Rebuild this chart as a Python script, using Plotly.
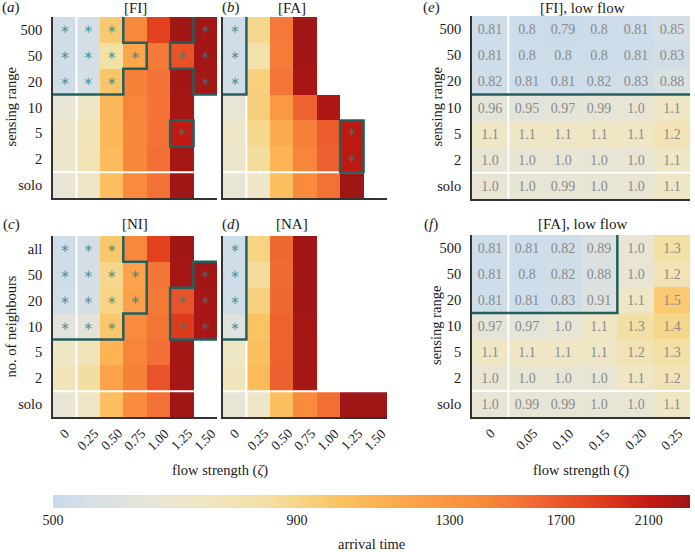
import math
from collections import defaultdict
import plotly.graph_objects as go

W, H = 695, 552
FONT = "Liberation Serif"
TXT = "#1a1a1a"
AXC = "#333333"
TEAL = "#245f60"
STAR = "rgba(40,128,133,0.78)"

# ---------------- data ----------------
SENSING_ROWS = ["500", "50", "20", "10", "5", "2", "solo"]
NEIGHBOUR_ROWS = ["all", "50", "20", "10", "5", "2", "solo"]
FLOW_HIGH = ["0", "0.25", "0.50", "0.75", "1.00", "1.25", "1.50"]
FLOW_LOW = ["0", "0.05", "0.10", "0.15", "0.20", "0.25"]

# arrival times (rows top->bottom, columns = flow strength)
FI_TIME = [
    [520, 540, 960, 1410, 1850, 2290, 2280],
    [520, 540, 830, 1170, 1500, 1730, 2280],
    [520, 545, 980, 1450, 1530, 2280, 2270],
    [640, 700, 1060, 1430, 1530, 2260, None],
    [690, 760, 1060, 1420, 1530, 2120, None],
    [680, 770, 1050, 1420, 1550, 2270, None],
    [640, 700, 1020, 1400, 1540, 2300, None],
]
FA_TIME = [
    [520, 880, 1510, 2280, None, None, None],
    [520, 810, 1490, 2280, None, None, None],
    [520, 930, 1520, 2250, None, None, None],
    [640, 940, 1280, 1630, 2220, None, None],
    [690, 890, 1130, 1460, 1660, 2140, None],
    [680, 850, 1090, 1430, 1640, 2140, None],
    [640, 700, 1020, 1400, 1540, 2300, None],
]
NI_TIME = [
    [520, 540, 975, 1410, 1850, 2280, None],
    [520, 540, 895, 1190, 1520, 2270, 2280],
    [530, 550, 910, 1200, 1500, 1720, 2250],
    [600, 610, 980, 1390, 1520, 1880, 2250],
    [710, 760, 1090, 1430, 1550, 2260, None],
    [750, 840, 1190, 1450, 1720, 2270, None],
    [640, 700, 1020, 1400, 1540, 2300, None],
]
NA_TIME = [
    [520, 910, 1600, 2280, None, None, None],
    [520, 850, 1580, 2280, None, None, None],
    [520, 920, 1600, 2280, None, None, None],
    [590, 1000, 1630, 2270, None, None, None],
    [710, 1020, 1630, 2260, None, None, None],
    [750, 1040, 1640, 2260, None, None, None],
    [640, 700, 1020, 1400, 1560, 2300, 2300],
]

# significance (stars + outline)
FI_SIG = [
    [1, 1, 1, 0, 0, 0, 1],
    [1, 1, 1, 1, 0, 1, 1],
    [1, 1, 1, 0, 0, 0, 1],
    [0, 0, 0, 0, 0, 0, 0],
    [0, 0, 0, 0, 0, 1, 0],
    [0, 0, 0, 0, 0, 0, 0],
    [0, 0, 0, 0, 0, 0, 0],
]
FA_SIG = [
    [1, 0, 0, 0, 0, 0, 0],
    [1, 0, 0, 0, 0, 0, 0],
    [1, 0, 0, 0, 0, 0, 0],
    [0, 0, 0, 0, 0, 0, 0],
    [0, 0, 0, 0, 0, 1, 0],
    [0, 0, 0, 0, 0, 1, 0],
    [0, 0, 0, 0, 0, 0, 0],
]
NI_SIG = [
    [1, 1, 1, 0, 0, 0, 0],
    [1, 1, 1, 1, 0, 0, 1],
    [1, 1, 1, 1, 0, 1, 1],
    [1, 1, 1, 0, 0, 1, 1],
    [0, 0, 0, 0, 0, 0, 0],
    [0, 0, 0, 0, 0, 0, 0],
    [0, 0, 0, 0, 0, 0, 0],
]
NA_SIG = [
    [1, 0, 0, 0, 0, 0, 0],
    [1, 0, 0, 0, 0, 0, 0],
    [1, 0, 0, 0, 0, 0, 0],
    [1, 0, 0, 0, 0, 0, 0],
    [0, 0, 0, 0, 0, 0, 0],
    [0, 0, 0, 0, 0, 0, 0],
    [0, 0, 0, 0, 0, 0, 0],
]

# low-flow ratios (relative to solo at zero flow)
FI_LOW_RATIO = [
    [0.81, 0.8, 0.79, 0.8, 0.81, 0.85],
    [0.81, 0.8, 0.8, 0.8, 0.81, 0.83],
    [0.82, 0.81, 0.81, 0.82, 0.83, 0.88],
    [0.96, 0.95, 0.97, 0.99, 1.0, 1.1],
    [1.1, 1.1, 1.1, 1.1, 1.1, 1.2],
    [1.0, 1.0, 1.0, 1.0, 1.0, 1.1],
    [1.0, 1.0, 0.99, 1.0, 1.0, 1.1],
]
FA_LOW_RATIO = [
    [0.81, 0.81, 0.82, 0.89, 1.0, 1.3],
    [0.81, 0.8, 0.82, 0.88, 1.0, 1.2],
    [0.81, 0.81, 0.83, 0.91, 1.1, 1.5],
    [0.97, 0.97, 1.0, 1.1, 1.3, 1.4],
    [1.1, 1.1, 1.1, 1.1, 1.2, 1.3],
    [1.0, 1.0, 1.0, 1.0, 1.1, 1.2],
    [1.0, 0.99, 0.99, 1.0, 1.0, 1.1],
]
FI_LOW_SIG = [
    [1, 1, 1, 1, 1, 1],
    [1, 1, 1, 1, 1, 1],
    [1, 1, 1, 1, 1, 1],
    [0, 0, 0, 0, 0, 0],
    [0, 0, 0, 0, 0, 0],
    [0, 0, 0, 0, 0, 0],
    [0, 0, 0, 0, 0, 0],
]
FA_LOW_SIG = [
    [1, 1, 1, 1, 0, 0],
    [1, 1, 1, 1, 0, 0],
    [1, 1, 1, 1, 0, 0],
    [0, 0, 0, 0, 0, 0],
    [0, 0, 0, 0, 0, 0],
    [0, 0, 0, 0, 0, 0],
    [0, 0, 0, 0, 0, 0],
]
SOLO_BASELINE = 640  # solo arrival time at zero flow

CBAR_TICKS = [500, 900, 1300, 1700, 2100]
T_MIN, T_MAX = 500, 2320

CSCALE = [
    [0.00, "#c8dbeb"], [0.03, "#cfdde8"], [0.06, "#d6e0e4"], [0.12, "#e1e3dc"],
    [0.16, "#e8e5d5"], [0.22, "#eee6c6"], [0.27, "#f1e4b9"], [0.33, "#f3e0a5"],
    [0.38, "#f6d68a"], [0.45, "#fbc363"], [0.51, "#fcb252"], [0.57, "#fba149"],
    [0.67, "#f88b3c"], [0.72, "#f47838"], [0.80, "#ea552a"], [0.85, "#e3411f"],
    [0.935, "#c51a12"], [1.00, "#9b1616"],
]
ZMIN, ZMAX = math.log10(T_MIN), math.log10(T_MAX)

panels = [
    dict(times=FI_TIME, sig=FI_SIG, rows=SENSING_ROWS, cols=FLOW_HIGH, xpx=(53, 217), ypx=(17, 198),
         title="[FI]", tx=135, ty=8, label="a", lx=11, yticks=True, xticks=False, stars=True,
         ylab="sensing range", ylx=10),
    dict(times=FA_TIME, sig=FA_SIG, rows=SENSING_ROWS, cols=FLOW_HIGH, xpx=(223, 387), ypx=(17, 198),
         title="[FA]", tx=292, ty=8, label="b", lx=231, yticks=False, xticks=False, stars=True),
    dict(ratio=FI_LOW_RATIO, sig=FI_LOW_SIG, rows=SENSING_ROWS, cols=FLOW_LOW, xpx=(472, 690), ypx=(16, 199),
         title="[FI], low flow", tx=582, ty=8, label="e", lx=431, yticks=True, xticks=False, stars=False,
         ylab="sensing range", ylx=436),
    dict(times=NI_TIME, sig=NI_SIG, rows=NEIGHBOUR_ROWS, cols=FLOW_HIGH, xpx=(53, 217), ypx=(236, 417),
         title="[NI]", tx=135, ty=224, label="c", lx=11, yticks=True, xticks=True, stars=True,
         ylab="no. of neighbours", ylx=10),
    dict(times=NA_TIME, sig=NA_SIG, rows=NEIGHBOUR_ROWS, cols=FLOW_HIGH, xpx=(223, 387), ypx=(236, 417),
         title="[NA]", tx=292, ty=224, label="d", lx=231, yticks=False, xticks=True, stars=True),
    dict(ratio=FA_LOW_RATIO, sig=FA_LOW_SIG, rows=SENSING_ROWS, cols=FLOW_LOW, xpx=(472, 690), ypx=(235, 417),
         title="[FA], low flow", tx=582, ty=224, label="f", lx=431, yticks=True, xticks=True, stars=False,
         ylab="sensing range", ylx=436),
]


def boundary_segments(mask):
    nr, nc = len(mask), len(mask[0])
    segs = []
    for i in range(nr):
        for j in range(nc):
            if not mask[i][j]:
                continue
            yc, xc = nr - 1 - i, j
            if i - 1 >= 0 and not mask[i - 1][j]:
                segs.append(((xc - 0.5, yc + 0.5), (xc + 0.5, yc + 0.5)))
            if i + 1 < nr and not mask[i + 1][j]:
                segs.append(((xc - 0.5, yc - 0.5), (xc + 0.5, yc - 0.5)))
            if j - 1 >= 0 and not mask[i][j - 1]:
                segs.append(((xc - 0.5, yc - 0.5), (xc - 0.5, yc + 0.5)))
            if j + 1 < nc and not mask[i][j + 1]:
                segs.append(((xc + 0.5, yc - 0.5), (xc + 0.5, yc + 0.5)))
    return segs


def chain(segs):
    adj = defaultdict(list)
    for k, (a, b) in enumerate(segs):
        adj[a].append((k, b))
        adj[b].append((k, a))
    used = set()
    paths = []
    starts = [v for v in adj if len(adj[v]) % 2 == 1] + list(adj.keys())
    for s in starts:
        while any(k not in used for k, _ in adj[s]):
            path, cur = [s], s
            while True:
                opts = [(k, b) for k, b in adj[cur] if k not in used]
                if not opts:
                    break
                k, b = opts[0]
                used.add(k)
                path.append(b)
                cur = b
            if len(path) > 2 and path[0] == path[-1]:
                path.append(path[1])
            paths.append(path)
    return paths


fig = go.Figure()
ann = []
layout = {}

for k, p in enumerate(panels):
    n = k + 1
    xs = "x" if n == 1 else f"x{n}"
    ys = "y" if n == 1 else f"y{n}"
    xl = "xaxis" if n == 1 else f"xaxis{n}"
    yl = "yaxis" if n == 1 else f"yaxis{n}"
    rows, cols = p["rows"], p["cols"]
    nr, nc = len(rows), len(cols)

    if "times" in p:
        z = [[None if v is None else math.log10(v) for v in row] for row in reversed(p["times"])]
        hm = go.Heatmap(z=z, x=list(range(nc)), y=list(range(nr)), xaxis=xs, yaxis=ys,
                        colorscale=CSCALE, zmin=ZMIN, zmax=ZMAX, showscale=(k == 0),
                        hoverinfo="skip")
    else:
        rr = list(reversed(p["ratio"]))
        z = [[math.log10(v * SOLO_BASELINE) for v in row] for row in rr]
        txt = [[str(v) for v in row] for row in rr]
        hm = go.Heatmap(z=z, x=list(range(nc)), y=list(range(nr)), xaxis=xs, yaxis=ys,
                        colorscale=CSCALE, zmin=ZMIN, zmax=ZMAX, showscale=False,
                        text=txt, texttemplate="%{text}",
                        textfont=dict(family=FONT, size=14, color="#8a8a8a"),
                        hoverinfo="skip")
    if k == 0:
        hm.colorbar = dict(
            orientation="h", x=371.5 / W, xanchor="center", y=1 - 495 / H, yanchor="top",
            len=637 / W, lenmode="fraction", thickness=13, xpad=0, ypad=0, outlinewidth=0,
            ticks="", tickvals=[math.log10(v) for v in CBAR_TICKS],
            ticktext=[str(v) for v in CBAR_TICKS],
            tickfont=dict(family=FONT, size=14, color=TXT),
        )
    fig.add_trace(hm)

    # white separators (zero-flow column | solo row)
    fig.add_trace(go.Scatter(x=[0.5, 0.5, None, -0.5, nc - 0.5], y=[-0.5, nr - 0.5, None, 0.5, 0.5],
                             mode="lines", line=dict(color="white", width=2), xaxis=xs, yaxis=ys,
                             hoverinfo="skip", showlegend=False))

    # significance outline
    lx, ly = [], []
    for path in chain(boundary_segments(p["sig"])):
        lx += [pt[0] for pt in path] + [None]
        ly += [pt[1] for pt in path] + [None]
    fig.add_trace(go.Scatter(x=lx, y=ly, mode="lines", line=dict(color=TEAL, width=2.5),
                             xaxis=xs, yaxis=ys, hoverinfo="skip", showlegend=False))

    if p["stars"]:
        sx, sy = [], []
        for i in range(nr):
            for j in range(nc):
                if p["sig"][i][j]:
                    sx.append(j)
                    sy.append(nr - 1 - i)
        fig.add_trace(go.Scatter(x=sx, y=sy, mode="text", text=["∗"] * len(sx),
                                 textfont=dict(family="DejaVu Sans", size=12, color=STAR),
                                 textposition="middle center", xaxis=xs, yaxis=ys,
                                 hoverinfo="skip", showlegend=False))

    x0, x1 = p["xpx"]
    y0, y1 = p["ypx"]
    layout[xl] = dict(domain=[x0 / W, x1 / W], range=[-0.5, nc - 0.5], showgrid=False, zeroline=False,
                      showline=True, linecolor=AXC, linewidth=1.5, ticks="", showticklabels=False,
                      anchor=ys, fixedrange=True)
    layout[yl] = dict(domain=[1 - y1 / H, 1 - y0 / H], range=[-0.5, nr - 0.5], showgrid=False,
                      zeroline=False, showline=True, linecolor=AXC, linewidth=1.5, ticks="",
                      tickvals=list(range(nr)), ticktext=list(reversed(rows)),
                      showticklabels=p["yticks"], ticklabelstandoff=6,
                      tickfont=dict(family=FONT, size=14.5, color=TXT), anchor=xs, fixedrange=True)

    if p["xticks"]:
        for j, lab in enumerate(cols):
            ann.append(dict(x=j, xref=xs, y=1 - 423 / H, yref="paper", text=lab, textangle=-45,
                            xanchor="center", yanchor="top", showarrow=False,
                            font=dict(family=FONT, size=13.5, color=TXT)))

    ann.append(dict(x=p["tx"] / W, y=1 - p["ty"] / H, xref="paper", yref="paper", text=p["title"],
                    showarrow=False, xanchor="center", yanchor="middle",
                    font=dict(family=FONT, size=15, color=TXT)))
    ann.append(dict(x=p["lx"] / W, y=1 - p["ty"] / H, xref="paper", yref="paper",
                    text=f"(<i>{p['label']}</i>)", showarrow=False, xanchor="center", yanchor="middle",
                    font=dict(family=FONT, size=15, color=TXT)))
    if p.get("ylab"):
        ann.append(dict(x=p["ylx"] / W, y=1 - (y0 + y1) / 2 / H, xref="paper", yref="paper",
                        text=p["ylab"], textangle=-90, showarrow=False, xanchor="center",
                        yanchor="middle", font=dict(family=FONT, size=14.5, color=TXT)))

for cx in (220, 581):
    ann.append(dict(x=cx / W, y=1 - 470 / H, xref="paper", yref="paper",
                    text="flow strength (<i>ζ</i>)", showarrow=False, xanchor="center",
                    yanchor="middle", font=dict(family=FONT, size=14.5, color=TXT)))
ann.append(dict(x=371.5 / W, y=1 - 544 / H, xref="paper", yref="paper", text="arrival time",
                showarrow=False, xanchor="center", yanchor="middle",
                font=dict(family=FONT, size=14.5, color=TXT)))

fig.update_layout(width=W, height=H, autosize=False, margin=dict(l=0, r=0, t=0, b=0),
                  paper_bgcolor="white", plot_bgcolor="white", showlegend=False,
                  annotations=ann, **layout)

fig.write_html("out.html", config={"displayModeBar": False},
               post_script="document.body.style.margin='0px';")
